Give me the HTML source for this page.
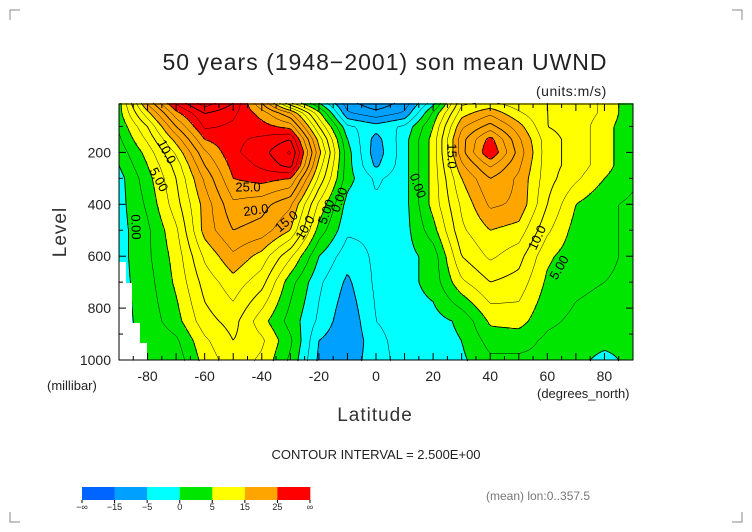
<!DOCTYPE html>
<html><head><meta charset="utf-8">
<style>
body{margin:0;background:#fff;}
svg{display:block;font-family:"Liberation Sans",sans-serif;}
</style></head>
<body>
<svg id="chart" width="752" height="532" viewBox="0 0 752 532" xmlns="http://www.w3.org/2000/svg">
<g id="corners" stroke="#888" stroke-width="1" fill="none">
<path d="M10 20V10H20"/><path d="M732 10H742V20"/><path d="M10 512V522H20"/><path d="M732 522H742V512"/>
</g>
<text x="385" y="70" text-anchor="middle" font-size="23" fill="#222" letter-spacing="1">50 years (1948−2001) son mean UWND</text>
<text x="536" y="96" font-size="14" fill="#222" letter-spacing="0.5">(units:m/s)</text>
<g id="field"></g>
<g id="lines" fill="none" stroke="#000"></g>
<g id="missing" fill="#fff">
<rect x="119" y="262" width="7" height="99"/><rect x="119" y="283" width="13" height="78"/><rect x="119" y="323" width="21" height="38"/><rect x="119" y="343" width="28" height="18"/>
</g>
<g id="labels" font-size="13" fill="#000"></g>
<rect x="119" y="104" width="514" height="256" fill="none" stroke="#000" stroke-width="1"/>
<g id="axes" font-size="14" fill="#222"></g>
<text transform="translate(66,232) rotate(-90)" text-anchor="middle" font-size="19" fill="#333" letter-spacing="1">Level</text>
<text x="47" y="390" font-size="13" fill="#222">(millibar)</text>
<text x="375" y="421" text-anchor="middle" font-size="19" fill="#333" letter-spacing="1">Latitude</text>
<text x="537" y="398" font-size="13" fill="#222">(degrees_north)</text>
<text x="376" y="459" text-anchor="middle" font-size="13" fill="#222">CONTOUR INTERVAL = 2.500E+00</text>
<text x="486" y="500" font-size="12" fill="#777">(mean) lon:0..357.5</text>
<g id="colorbar"></g>
</svg>
<script>
const NS="http://www.w3.org/2000/svg";
const lats=[-90,-80,-70,-60,-50,-40,-30,-20,-10,0,10,20,30,40,50,60,70,80,90];
const levels=[10,50,100,150,200,250,300,400,500,600,700,850,925,1000];
const u10  =[4,18,28,34,30,20,8,0,-9,-12,-9,-1,12,13,11,10,9,7,3];
const u50  =[4,14,24,30,28,24,18,6,-7,-9,-7,3,14,17,13,10,9,7,3];
const u100 =[3,10,20,28,27,26,24,10,-2,-4,-2,5,17,21,16,10,9,6,3];
const u150 =[2,8,16,25,27,28,30,14,0,-6,-1,6,19,26,18,11,9,6,3];
const u200 =[1,6,13,22,27,29,33,16,1,-6.5,-1,6,19,27.5,19,11,9,6,3];
const u250 =[0,5,11,20,26,28,31,14,1,-5.5,-1,6,17,23,18,11,9,6,3];
const u300 =[-1,4,10,18,25,26,25,12,1,-3,-1,6,15,20,17,11,8,5,3];
const u400 =[-1,3,9,16,22,21,18,7,-1,-2,-1,6,13,18,17,10,5,3,2];
const u500 =[-1,2,7,16,20,19,15,4,-2,-2,-1,4,12,15,14,8,4,3,2];
const u600 =[-1,2,6,13,17,14,8,0,-4,-2,-1,1,10,13,11,5.5,3.5,3,2];
const u700 =[-1,1.5,5.5,11,14,11,3.5,-2,-5.5,-2,-1,1,7,10,9,4.5,3,2.5,2];
const u850 =[-1,1,4,9,11,6,1.5,-3,-7,-2.5,-1,-1,0.5,5.5,6,3,2,1.5,0];
const u925 =[-1,0.5,2,7,10,8,3,-5,-7,-3.5,-1,-1,0,3.5,3.5,2,1.5,1,1];
const u1000=[-1,1,1,6,9,7,2,-5.5,-6,-4,-1,-1,-0.5,2,2,2,1,-1,1];
const rows=[u10,u50,u100,u150,u200,u250,u300,u400,u500,u600,u700,u850,u925,u1000];
const bounds=[-15,-5,0,5,15,25];
const colors=["#0064ff","#00a0ff","#00ffff","#00e600","#ffff00","#ffa500","#ff0000"];
const cbLabels=["−∞","−15","−5","0","5","15","25","∞"];
const xTicks=[-80,-60,-40,-20,0,20,40,60,80];
const yTicks=[200,400,600,800,1000];

const X0=119,X1=633,Y1=360,PXMB=0.2595;
const xs=lat=>X0+(lat+90)/180*(X1-X0);
const ys=p=>Y1-(1000-p)*PXMB;

function val(x,y){
  const lat=(x-X0)/(X1-X0)*180-90;
  let i=Math.min(lats.length-2,Math.max(0,Math.floor((lat+90)/10)));
  const tx=(lat-lats[i])/10;
  let j=0;while(j<levels.length-2&&ys(levels[j+1])<y)j++;
  const ya=ys(levels[j]),yb=ys(levels[j+1]);
  let ty=(y-ya)/(yb-ya);ty=Math.max(0,Math.min(1,ty));
  const a=rows[j][i]*(1-tx)+rows[j][i+1]*tx;
  const b=rows[j+1][i]*(1-tx)+rows[j+1][i+1]*tx;
  return a*(1-ty)+b*ty;
}
function band(v){let k=0;while(k<bounds.length&&v>=bounds[k])k++;return k;}

const YT=ys(10);
const S=2,nx=Math.ceil((X1-X0)/S),ny=Math.ceil((Y1-YT)/S);
const G=[];
for(let j=0;j<=ny;j++){G.push([]);for(let i=0;i<=nx;i++){G[j].push(val(Math.min(X1,X0+i*S),Math.min(Y1,YT+j*S)));}}
const field=document.getElementById('field');
let html='';
for(let j=0;j<ny;j++){
  let i=0;
  while(i<nx){
    const v=(G[j][i]+G[j][i+1]+G[j+1][i]+G[j+1][i+1])/4;
    const b=band(v);let k=i+1;
    while(k<nx&&band((G[j][k]+G[j][k+1]+G[j+1][k]+G[j+1][k+1])/4)===b)k++;
    const x=X0+i*S,y=YT+j*S;
    const w=Math.min(X1,X0+k*S)-x+0.5,h=Math.min(Y1,YT+(j+1)*S)-y+0.5;
    html+=`<rect x="${x}" y="${y}" width="${w}" height="${h}" fill="${colors[b]}"/>`;
    i=k;
  }
}
field.innerHTML=html;
for(const r of field.children){}

const lineG=document.getElementById('lines');
for(let L=-10;L<=35;L+=2.5){
  let d='';
  for(let j=0;j<ny;j++)for(let i=0;i<nx;i++){
    const x0=X0+i*S,y0=YT+j*S;
    const c=[G[j][i],G[j][i+1],G[j+1][i+1],G[j+1][i]];
    const p=[[x0,y0],[x0+S,y0],[x0+S,y0+S],[x0,y0+S]];
    const pts=[];
    for(let e=0;e<4;e++){
      const a=c[e],b=c[(e+1)%4];
      if((a<L)!==(b<L)){const t=(L-a)/(b-a);const pa=p[e],pb=p[(e+1)%4];pts.push([pa[0]+t*(pb[0]-pa[0]),pa[1]+t*(pb[1]-pa[1])]);}
    }
    if(pts.length>=2)d+=`M${pts[0][0].toFixed(1)} ${pts[0][1].toFixed(1)}L${pts[1][0].toFixed(1)} ${pts[1][1].toFixed(1)}`;
    if(pts.length===4)d+=`M${pts[2][0].toFixed(1)} ${pts[2][1].toFixed(1)}L${pts[3][0].toFixed(1)} ${pts[3][1].toFixed(1)}`;
  }
  const path=document.createElementNS(NS,'path');
  
  
  path.setAttribute('d',d);
  path.setAttribute('stroke-width',(L%5===0)?0.9:0.5);
  if(L<0)path.setAttribute('stroke-dasharray','4 3');
  lineG.appendChild(path);
}

const lab=[["10.0",166,152,62],["5.00",158,180,62],["0.00",135,227,88],["25.0",248,188,0],["20.0",256,211,-8],["15.0",287,222,-40],["10.0",306,228,-60],["5.00",327,212,-70],["0.00",340,200,-70],["15.0",451,156,90],["0.00",417,186,70],["10.0",538,238,-65],["5.00",560,268,-60]];
const labG=document.getElementById('labels');
for(const [t,x,y,r] of lab){
  const el=document.createElementNS(NS,'text');
  
  
  el.setAttribute('transform',`translate(${x},${y}) rotate(${r})`);
  el.setAttribute('text-anchor','middle');el.setAttribute('dominant-baseline','middle');
  el.textContent=t;labG.appendChild(el);
}

const ax=document.getElementById('axes');
let ah='';
for(let lat=-90;lat<=90;lat+=5){const x=xs(lat);const len=lat%10===0?7:4;ah+=`<line x1="${x}" y1="${Y1}" x2="${x}" y2="${Y1-len}" stroke="#000"/><line x1="${x}" y1="104" x2="${x}" y2="${104+len}" stroke="#000"/>`;}
for(let p=100;p<=1000;p+=100){const y=ys(p);const len=p%200===0?7:4;ah+=`<line x1="${X0}" y1="${y}" x2="${X0+len}" y2="${y}" stroke="#000"/><line x1="${X1}" y1="${y}" x2="${X1-len}" y2="${y}" stroke="#000"/>`;}
ax.innerHTML=ah;
for(const t of xTicks){const el=document.createElementNS(NS,'text');


el.setAttribute('x',xs(t));el.setAttribute('y',381);el.setAttribute('text-anchor','middle');el.textContent=t;ax.appendChild(el);}
for(const t of yTicks){const el=document.createElementNS(NS,'text');


el.setAttribute('x',111);el.setAttribute('y',ys(t)+5);el.setAttribute('text-anchor','end');el.textContent=t;ax.appendChild(el);}

const cb=document.getElementById('colorbar');
const cw=(310-82)/colors.length;
colors.forEach((c,k)=>{const r=document.createElementNS(NS,'rect');


r.setAttribute('x',82+k*cw);r.setAttribute('y',487);r.setAttribute('width',cw+0.3);r.setAttribute('height',13);r.setAttribute('fill',c);cb.appendChild(r);});
cbLabels.forEach((t,k)=>{const el=document.createElementNS(NS,'text');


el.setAttribute('x',82+k*cw);el.setAttribute('y',510);el.setAttribute('text-anchor','middle');el.setAttribute('font-size','9');el.setAttribute('fill','#222');el.textContent=t;cb.appendChild(el);
const tk=document.createElementNS(NS,'line');


tk.setAttribute('x1',82+k*cw);tk.setAttribute('x2',82+k*cw);tk.setAttribute('y1',500);tk.setAttribute('y2',503);tk.setAttribute('stroke','#000');cb.appendChild(tk);});
</script>
</body></html>
